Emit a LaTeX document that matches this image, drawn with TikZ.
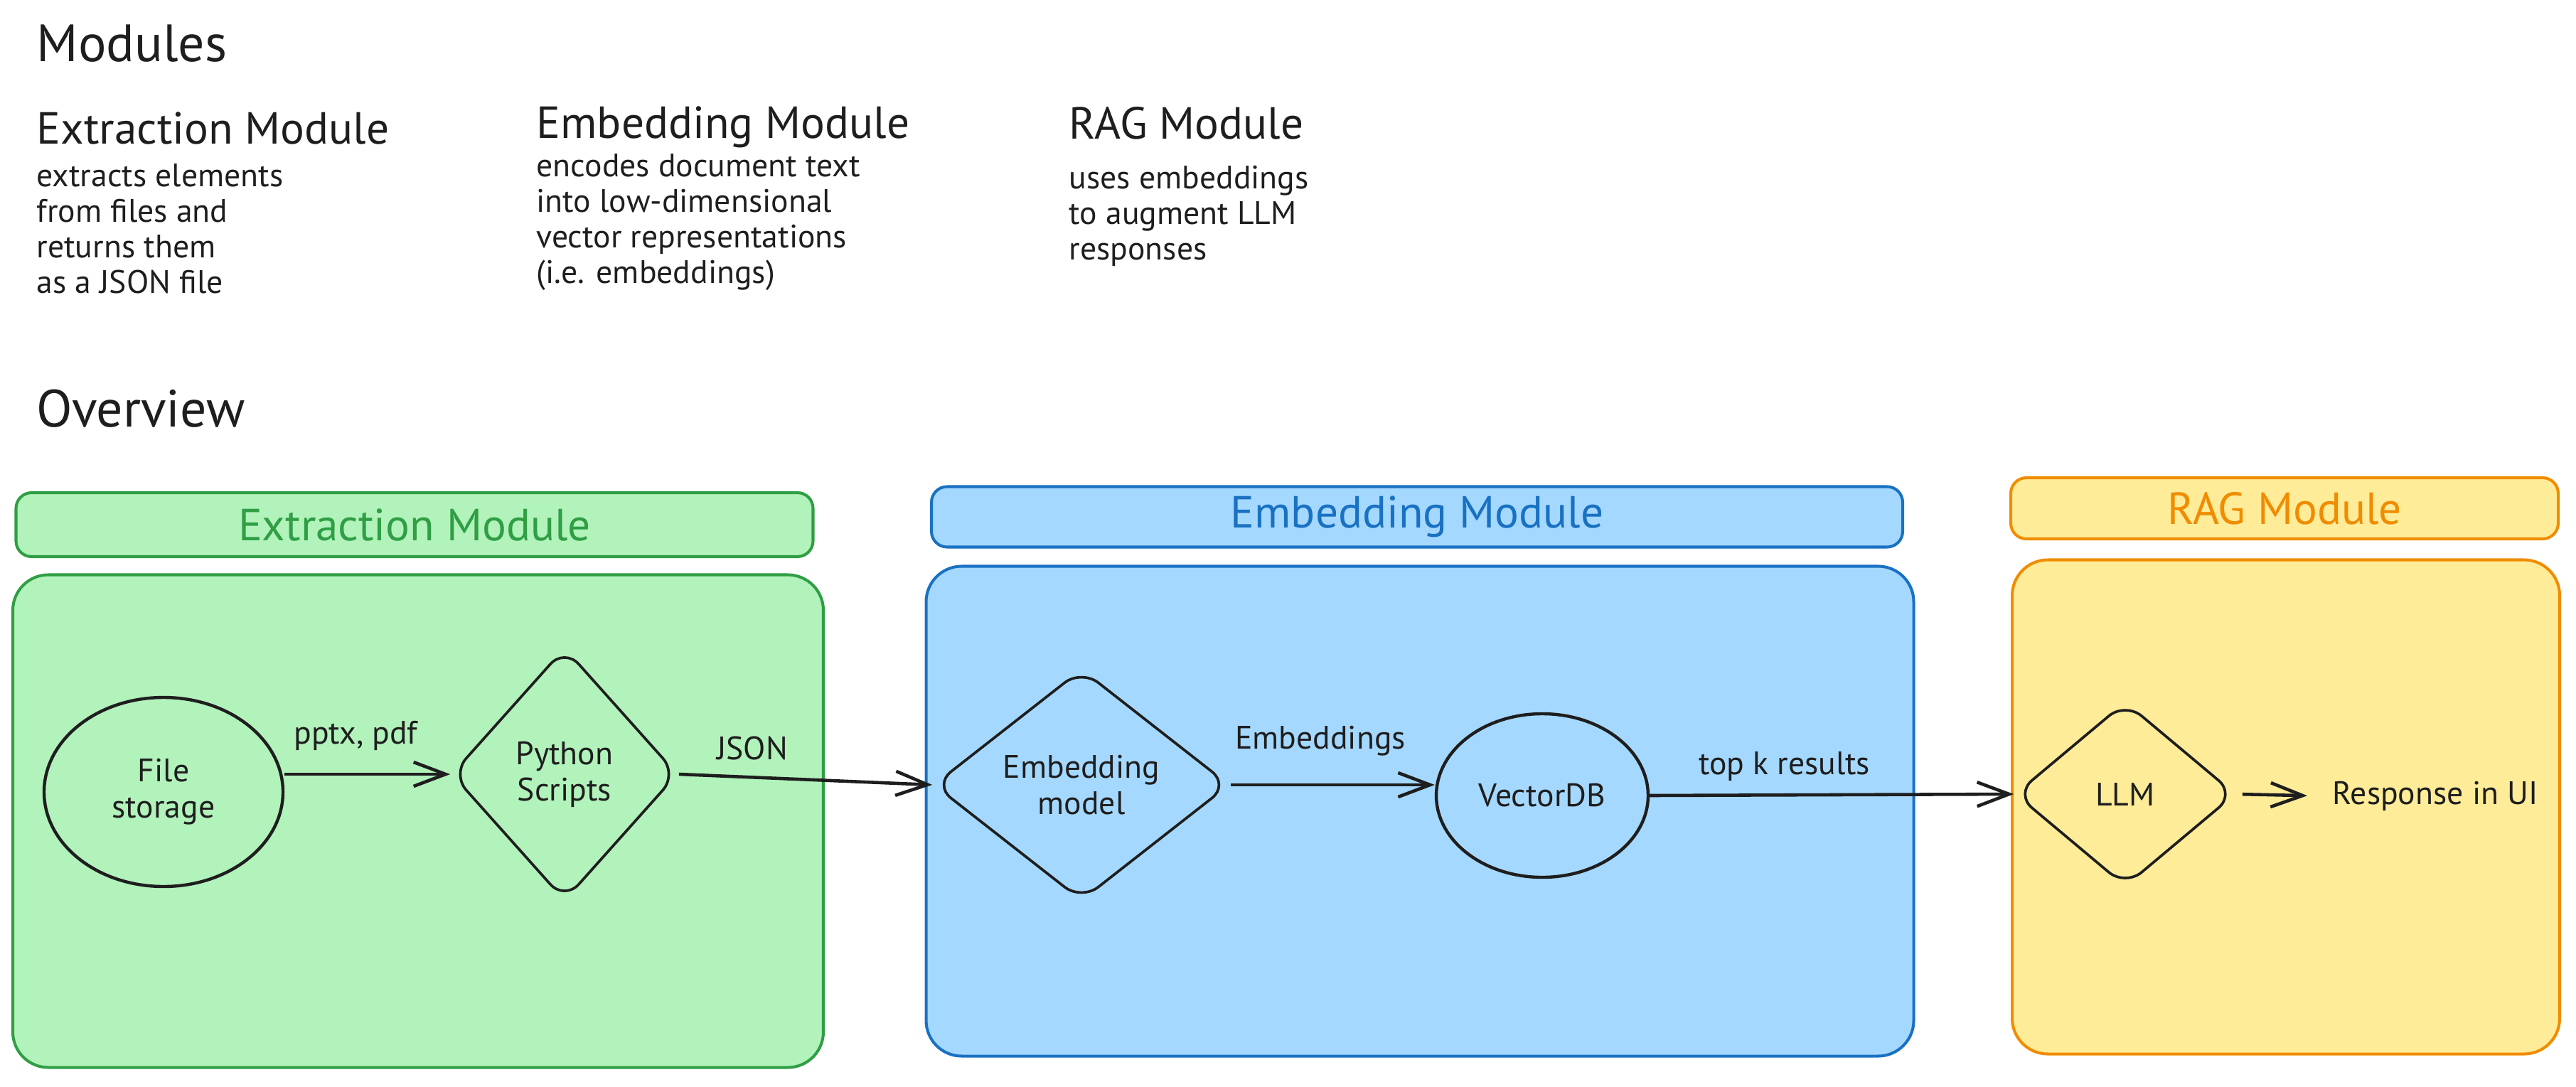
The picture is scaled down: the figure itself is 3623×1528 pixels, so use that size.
\documentclass[tikz,border=0pt]{standalone}
\usepackage{fontspec}
\setmainfont{PT Sans}
\usetikzlibrary{shapes.geometric,arrows.meta,positioning}

\definecolor{extfill}{HTML}{B2F2BB}
\definecolor{extline}{HTML}{2F9E44}
\definecolor{embfill}{HTML}{A5D8FF}
\definecolor{embline}{HTML}{1971C2}
\definecolor{ragfill}{HTML}{FFEC99}
\definecolor{ragline}{HTML}{F08C00}
\definecolor{ink}{HTML}{1E1E1E}

\begin{document}
\begin{tikzpicture}[x=0.1mm,y=-0.1mm,
  title/.style={anchor=base west,inner sep=0pt,text=ink,font=\fontsize{21}{25}\selectfont},
  heading/.style={anchor=base west,inner sep=0pt,text=ink,font=\fontsize{18}{22}\selectfont},
  blurb/.style={anchor=base west,inner sep=0pt,align=left,text=ink,font=\fontsize{13}{14.2}\selectfont},
  head/.style={draw=#1line,fill=#1fill,text=#1line,line width=1.15pt,rounded corners=2.2mm,
    font=\fontsize{18}{22}\selectfont},
  panel/.style={draw=#1line,fill=#1fill,line width=1.15pt,rounded corners=5mm},
  store/.style={ellipse,draw=ink,line width=1.25pt,inner sep=0pt,align=center,text=ink,
    font=\fontsize{13}{14.5}\selectfont},
  proc/.style={diamond,draw=ink,line width=1.05pt,inner sep=0pt,rounded corners=3mm,align=center,
    text=ink,font=\fontsize{13}{14.5}\selectfont},
  flow/.style={draw=ink,line width=1.3pt,-{Straight Barb[length=4.5mm,width=3.4mm]}},
  tag/.style={text=ink,font=\fontsize{13}{15}\selectfont}]
\useasboundingbox (0,0) rectangle (3623,1528);

\node[title] (modules) at (51,86) {Modules};
\node[heading] (exthd) at (51,202) {Extraction Module};
\node[blurb] (exttxt) at (51,412) {extracts elements\\from files and\\returns them\\as a JSON file};
\node[heading] (embhd) at (754,194) {Embedding Module};
\node[blurb] (embtxt) at (754,398) {encodes document text\\into low-dimensional\\vector representations\\(i.e. embeddings)};
\node[heading] (raghd) at (1503,195) {RAG Module};
\node[blurb] (ragtxt) at (1503,365) {uses embeddings\\to augment LLM\\responses};
\node[title] (overview) at (51,600) {Overview};

\node[head=ext,minimum width=112.1mm,minimum height=9mm] (exthead) at (583,738) {Extraction Module};
\node[panel=ext,minimum width=114mm,minimum height=69.3mm] (extbox) at (588,1155) {};
\node[head=emb,minimum width=136.6mm,minimum height=8.5mm] (embhead) at (1993,727) {Embedding Module};
\node[panel=emb,minimum width=138.9mm,minimum height=68.9mm] (embbox) at (1997,1141) {};
\node[head=rag,minimum width=77mm,minimum height=8.6mm] (raghead) at (3213,715) {RAG Module};
\node[panel=rag,minimum width=77mm,minimum height=69.5mm] (ragbox) at (3215,1135) {};

\node[store,minimum width=33.6mm,minimum height=26.6mm] (files) at (230,1114) {File\\storage};
\node[proc,minimum width=31.8mm,minimum height=35.6mm] (scripts) at (794,1089) {Python\\Scripts};
\node[proc,minimum width=41.6mm,minimum height=32.6mm] (embedder) at (1521,1104) {Embedding\\model};
\node[store,minimum width=29.8mm,minimum height=23mm] (vectordb) at (2169,1119) {VectorDB};
\node[proc,minimum width=31mm,minimum height=26mm] (llm) at (2989,1117) {LLM};
\node[tag,anchor=west,inner sep=0pt] (ui) at (3280,1120) {Response in UI};

\draw[flow] (files.east |- scripts.west) -- (scripts.west) node[tag,pos=.43,above=1.9mm] {pptx, pdf};
\draw[flow] (scripts.east) -- (embedder.west) node[tag,pos=.29,above=1mm] {JSON};
\draw[flow] (embedder.east) -- (embedder.east -| vectordb.west) node[tag,pos=.44,above=2.7mm] {Embeddings};
\draw[flow] (vectordb.east) -- (llm.west) node[tag,pos=.37,above=.6mm] {top k results};
\draw[flow,shorten <=.8mm,shorten >=3.5mm] (llm.east) -- (ui.west);
\end{tikzpicture}
\end{document}
